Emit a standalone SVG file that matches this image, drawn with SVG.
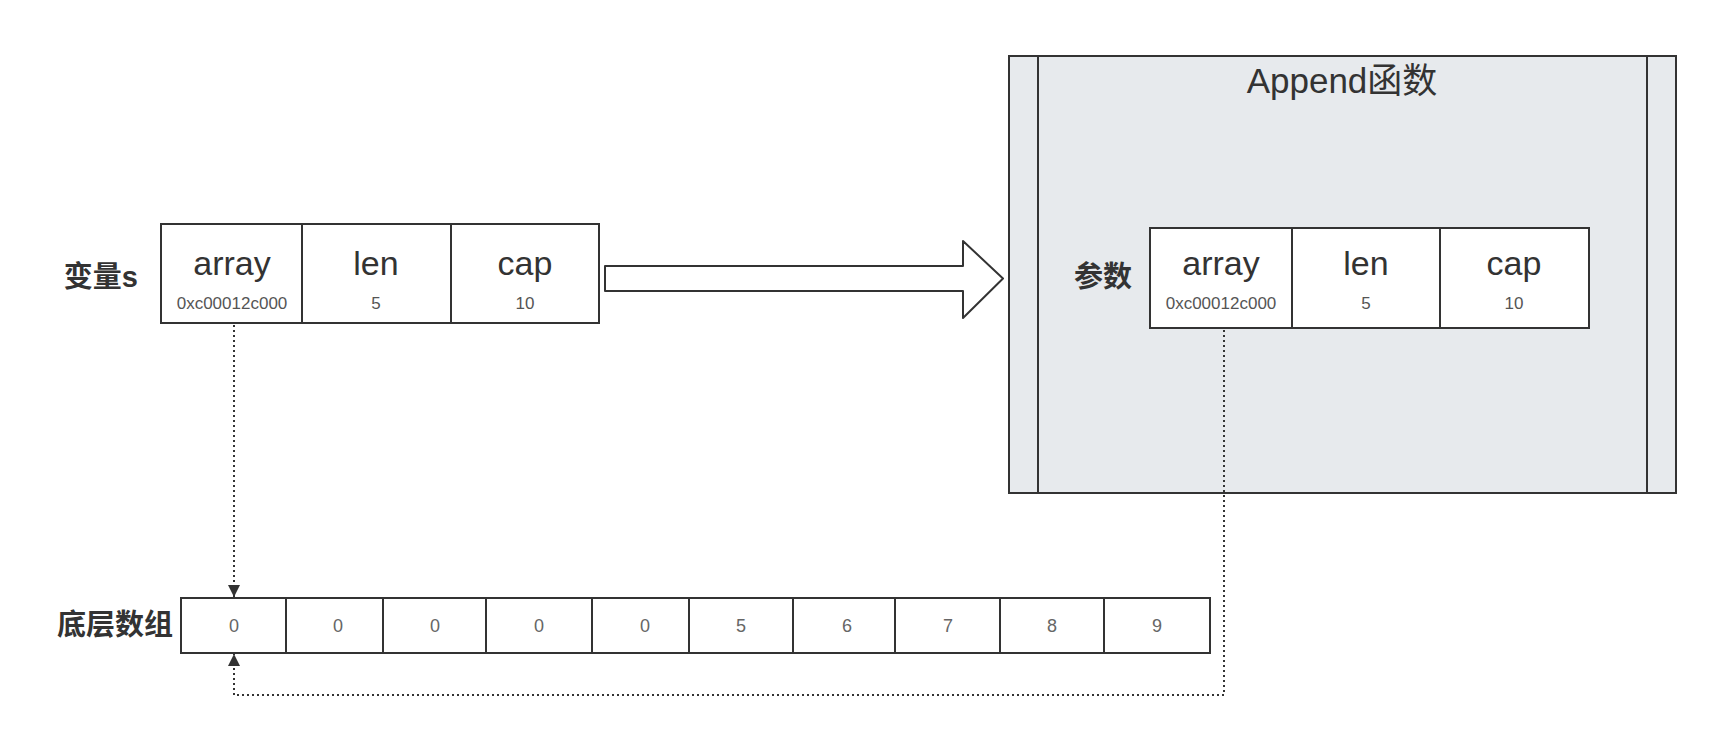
<svg xmlns="http://www.w3.org/2000/svg" width="1736" height="735" viewBox="0 0 1736 735">
<style>
.box{fill:#fff;stroke:#333;stroke-width:2}
.frame{fill:#e7eaed;stroke:#333;stroke-width:2}
.ln{stroke:#333;stroke-width:2;fill:none}
.big{font-family:"Liberation Sans","Noto Sans CJK SC",sans-serif;font-size:34px;fill:#333;text-anchor:middle}
.title{font-family:"Liberation Sans","Noto Sans CJK SC",sans-serif;font-size:35px;fill:#333;text-anchor:middle}
.small{font-family:"Liberation Sans","Noto Sans CJK SC",sans-serif;font-size:17px;fill:#555;text-anchor:middle}
.num{font-family:"Liberation Sans","Noto Sans CJK SC",sans-serif;font-size:18px;fill:#666;text-anchor:middle}
.lbl{font-family:"Liberation Sans","Noto Sans CJK SC",sans-serif;font-size:29px;font-weight:bold;fill:#333;text-anchor:end}
.dot{stroke:#333;stroke-width:2;fill:none;stroke-dasharray:2 3}
</style>
<defs>
<marker id="ah" viewBox="0 0 10 10" refX="10" refY="5" markerWidth="6" markerHeight="6" markerUnits="strokeWidth" orient="auto">
<path d="M0,0 L10,5 L0,10 z" fill="#333"/>
</marker>
</defs>
<rect width="1736" height="735" fill="#fff"/>

<g id="append-func">
<rect class="frame" x="1009" y="56" width="667" height="437"/>
<line class="ln" x1="1038" y1="56" x2="1038" y2="493"/>
<line class="ln" x1="1647" y1="56" x2="1647" y2="493"/>
<text class="title" x="1342" y="93">Append函数</text>
</g>

<g id="var-s">
<text class="lbl" x="138" y="287">变量s</text>
<rect class="box" x="161" y="224" width="438" height="99"/>
<line class="ln" x1="302" y1="224" x2="302" y2="323"/>
<line class="ln" x1="451" y1="224" x2="451" y2="323"/>
<text class="big" x="232" y="275">array</text>
<text class="small" x="232" y="309">0xc00012c000</text>
<text class="big" x="376" y="275">len</text>
<text class="small" x="376" y="309">5</text>
<text class="big" x="525" y="275">cap</text>
<text class="small" x="525" y="309">10</text>
</g>

<g id="param">
<text class="lbl" x="1132" y="287">参数</text>
<rect class="box" x="1150" y="228" width="439" height="100"/>
<line class="ln" x1="1292" y1="228" x2="1292" y2="328"/>
<line class="ln" x1="1440" y1="228" x2="1440" y2="328"/>
<text class="big" x="1221" y="275">array</text>
<text class="small" x="1221" y="309">0xc00012c000</text>
<text class="big" x="1366" y="275">len</text>
<text class="small" x="1366" y="309">5</text>
<text class="big" x="1514" y="275">cap</text>
<text class="small" x="1514" y="309">10</text>
</g>

<g id="big-arrow">
<path class="box" d="M605,266 H963 V241 L1003,278.5 L963,318 V291 H605 Z" stroke-linejoin="round"/>
</g>

<g id="base-array">
<text class="lbl" x="173" y="635">底层数组</text>
<rect class="box" x="181" y="598" width="1029" height="55"/>
<line class="ln" x1="286" y1="598" x2="286" y2="653"/>
<line class="ln" x1="383" y1="598" x2="383" y2="653"/>
<line class="ln" x1="486" y1="598" x2="486" y2="653"/>
<line class="ln" x1="592" y1="598" x2="592" y2="653"/>
<line class="ln" x1="689" y1="598" x2="689" y2="653"/>
<line class="ln" x1="793" y1="598" x2="793" y2="653"/>
<line class="ln" x1="895" y1="598" x2="895" y2="653"/>
<line class="ln" x1="1000" y1="598" x2="1000" y2="653"/>
<line class="ln" x1="1104" y1="598" x2="1104" y2="653"/>
<text class="num" x="234" y="632">0</text>
<text class="num" x="338" y="632">0</text>
<text class="num" x="435" y="632">0</text>
<text class="num" x="539" y="632">0</text>
<text class="num" x="645" y="632">0</text>
<text class="num" x="741" y="632">5</text>
<text class="num" x="847" y="632">6</text>
<text class="num" x="948" y="632">7</text>
<text class="num" x="1052" y="632">8</text>
<text class="num" x="1157" y="632">9</text>
</g>

<g id="connectors">
<path class="dot" d="M234,325 V597" marker-end="url(#ah)"/>
<path class="dot" d="M1224,330 V695 H234 V654" marker-end="url(#ah)"/>
</g>
</svg>
